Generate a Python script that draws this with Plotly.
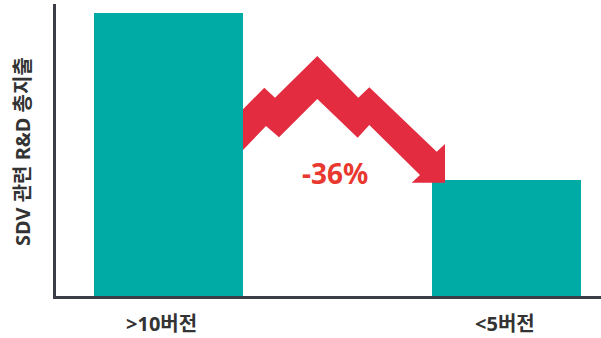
import plotly.graph_objects as go

# Total SDV-related R&D spend by number of software versions (indexed)
categories = [">10버전", "<5버전"]
spend = [100, 64]
change_pct = round((spend[1] - spend[0]) / spend[0] * 100)
change_label = f"{change_pct}%"

BAR_COLOR = "#00aba6"
ARROW_COLOR = "#e32c40"
TEXT_COLOR = "#333333"
AXIS_COLOR = "#3b3e47"
FONT = "Noto Sans, Noto Sans CJK KR, sans-serif"

W, H = 601, 338
L, R, T, B = 56, 0, 4, 42
plot_w, plot_h = W - L - R, H - T - B


def px(x):
    return (x - L) / plot_w


def py(y):
    return (H - B - y) / plot_h


fig = go.Figure(
    go.Bar(
        x=categories,
        y=spend,
        marker=dict(color=BAR_COLOR, line=dict(width=0)),
        width=0.441,
        hoverinfo="skip",
    )
)

# Zigzag downward arrow between the two bars (outline in pixel space)
arrow_pts = [
    (243, 109.3), (264.3, 87.7), (275, 97.7), (317.3, 56), (358.3, 97.7),
    (369.3, 87.3), (436.7, 151.7), (445, 144), (445, 182.7), (411.7, 182.7),
    (420, 175), (369.3, 125), (357.7, 137.7), (317.3, 99), (279, 137.3),
    (266, 126), (243, 150),
]
path = "M " + " L ".join(f"{px(x):.5f},{py(y):.5f}" for x, y in arrow_pts) + " Z"
fig.add_shape(
    type="path", path=path, xref="paper", yref="paper",
    fillcolor=ARROW_COLOR, line=dict(width=0), layer="above",
)

fig.add_annotation(
    x=px(335), y=py(173.5), xref="paper", yref="paper",
    text=change_label, showarrow=False,
    font=dict(family=FONT, size=28, color="#e8382f", weight="bold"),
    xanchor="center", yanchor="middle",
)

# Vertical axis title
fig.add_annotation(
    x=px(22.5), y=py(151.5), xref="paper", yref="paper",
    text="SDV 관련 R&D 총지출", textangle=-90, showarrow=False,
    font=dict(family=FONT, size=20, color=TEXT_COLOR, weight="bold"),
    xanchor="center", yanchor="middle",
)

# Category labels under the bars
label_shift = [-7, -1]
for cat, dx in zip(categories, label_shift):
    fig.add_annotation(
        x=cat, y=0, xref="x", yref="paper",
        text=cat, showarrow=False, xshift=dx, yshift=-27,
        font=dict(family=FONT, size=20, color=TEXT_COLOR, weight="bold"),
        xanchor="center", yanchor="middle",
    )

fig.update_layout(
    width=W, height=H,
    margin=dict(l=L, r=R, t=T, b=B, pad=0),
    paper_bgcolor="white", plot_bgcolor="white",
    showlegend=False,
    bargap=0,
    xaxis=dict(
        range=[-0.333, 1.280],
        showline=True, linecolor=AXIS_COLOR, linewidth=2.5,
        showgrid=False, zeroline=False, ticks="", showticklabels=False,
    ),
    yaxis=dict(
        range=[38.99, 101.94],
        showline=True, linecolor=AXIS_COLOR, linewidth=2.5,
        showgrid=False, zeroline=False, ticks="", showticklabels=False,
    ),
)

fig.write_html("out.html")
